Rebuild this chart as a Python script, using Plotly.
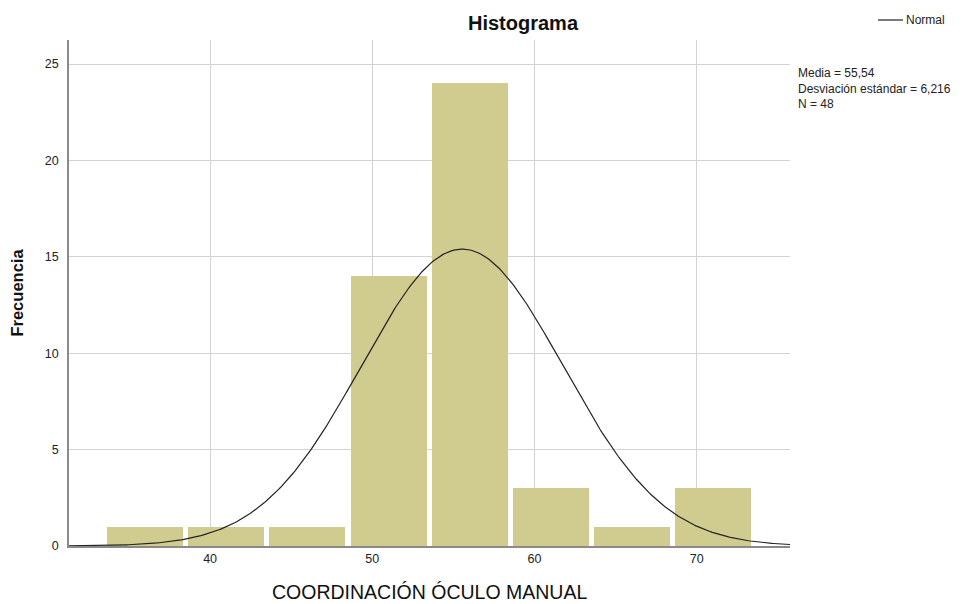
import numpy as np
import plotly.graph_objects as go

# Data
bin_centers = [36, 41, 46, 51, 56, 61, 66, 71]
counts = [1, 1, 1, 14, 24, 3, 1, 3]
bin_width = 5
media = 55.54
desv = 6.216
n_total = 48
x_ticks = [40, 50, 60, 70]
y_ticks = [0, 5, 10, 15, 20, 25]
x_title = "COORDINACIÓN ÓCULO MANUAL"

x_range = [31.3, 75.75]
y_range = [0, 26.25]

# Normal curve from reported stats
xc = np.linspace(x_range[0], x_range[1], 400)
yc = n_total * bin_width * np.exp(-0.5 * ((xc - media) / desv) ** 2) / (desv * np.sqrt(2 * np.pi))

fig = go.Figure()
fig.add_trace(go.Bar(
    x=bin_centers, y=counts, width=4.68,
    marker=dict(color="#D0CB8F", line=dict(width=0)),
    showlegend=False, hoverinfo="skip",
))
fig.add_trace(go.Scatter(
    x=xc, y=yc, mode="lines", name="Normal", showlegend=False,
    line=dict(color="#222222", width=1.2),
))

L, R, T, B = 69, 185, 40, 58
PW, PH = 975 - L - R, 604 - T - B

def px_x(p):
    return (p - L) / PW

def px_y(p):
    return (604 - B - p) / PH

font_family = "Liberation Sans, Arial, sans-serif"
fig.update_layout(
    width=975, height=604,
    margin=dict(l=L, r=R, t=T, b=B, autoexpand=False),
    plot_bgcolor="white", paper_bgcolor="white",
    font=dict(family=font_family, size=12, color="#222222"),
    title=dict(text="<b>Histograma</b>", x=523 / 975, xanchor="center",
               y=1 - 23 / 604, yanchor="middle",
               font=dict(size=20, color="#111111")),
    xaxis=dict(
        range=x_range, tickvals=x_ticks, ticks="", automargin=False,
        showgrid=True, gridcolor="#D3D3D3", gridwidth=1,
        showline=True, linecolor="#8A8A8A", linewidth=1.5,
        zeroline=False,
        tickfont=dict(size=12.5, color="#222222"),
    ),
    yaxis=dict(
        range=y_range, tickvals=y_ticks, ticks="outside", ticklen=6,
        tickcolor="rgba(0,0,0,0)", automargin=False,
        showgrid=True, gridcolor="#D3D3D3", gridwidth=1,
        showline=True, linecolor="#8A8A8A", linewidth=1.5,
        zeroline=False,
        title=dict(text="<b>Frecuencia</b>", standoff=17,
                   font=dict(size=16.5, color="#111111")),
        tickfont=dict(size=12.5, color="#222222"),
    ),
    bargap=0,
    showlegend=False,
    shapes=[dict(type="line", xref="paper", yref="paper",
                 x0=px_x(878), x1=px_x(903), y0=px_y(20), y1=px_y(20),
                 line=dict(color="#222222", width=1.2))],
    annotations=[
        dict(xref="paper", yref="paper", x=0.5, y=px_y(592),
             xanchor="center", yanchor="middle", showarrow=False,
             text=x_title, font=dict(size=19.5, color="#111111")),
        dict(xref="paper", yref="paper", x=px_x(904), y=px_y(20),
             xanchor="left", yanchor="middle", showarrow=False,
             text="Normal", font=dict(size=12, color="#222222")),
        dict(
            xref="paper", yref="paper", x=px_x(796), y=px_y(64),
            xanchor="left", yanchor="top", align="left", showarrow=False,
            text=f"Media = {media:.2f}".replace(".", ",") + "<br>"
                 + f"Desviación estándar = {desv:.3f}".replace(".", ",") + "<br>"
                 + f"N = {n_total}",
            font=dict(size=12, color="#222222"),
        ),
    ],
)

fig.write_html("out.html", config={"displayModeBar": False},
               post_script="document.body.style.margin='0';document.body.style.overflow='hidden';")
